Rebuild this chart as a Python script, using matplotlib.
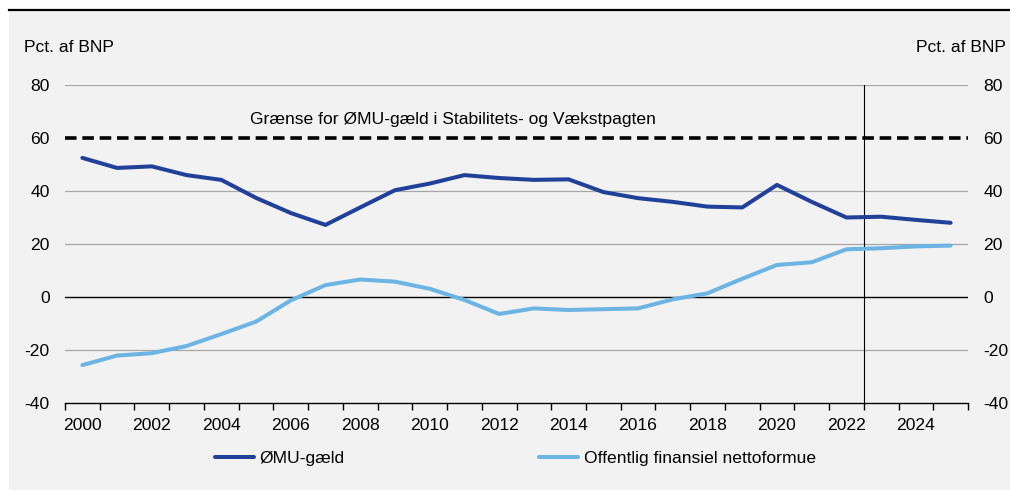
import matplotlib.pyplot as plt
from matplotlib.patches import Rectangle
from matplotlib.lines import Line2D

plt.rcParams['font.family'] = ['Liberation Sans', 'DejaVu Sans']
plt.rcParams['axes.unicode_minus'] = False

years = list(range(2000, 2026))
emu_debt = [52.5, 48.7, 49.3, 46.0, 44.2, 37.4, 31.7, 27.2, 33.8, 40.3,
            42.8, 46.0, 44.9, 44.2, 44.4, 39.6, 37.3, 35.9, 34.1, 33.8,
            42.3, 35.9, 30.0, 30.3, 29.1, 28.0]
net_wealth = [-25.7, -22.1, -21.2, -18.5, -14.0, -9.3, -1.3, 4.5, 6.6, 5.8,
              3.1, -1.1, -6.4, -4.3, -4.9, -4.6, -4.3, -0.9, 1.4, 6.9,
              12.1, 13.1, 18.0, 18.4, 19.1, 19.4]
limit = 60
ticks = [-40, -20, 0, 20, 40, 60, 80]
dark_blue = '#21409a'
light_blue = '#6cb4e4'
fs = 12.6

fig = plt.figure(figsize=(10.1, 4.9), dpi=100, facecolor='white')
fig.patches.append(Rectangle((9 / 1010, 0), 1 - 9 / 1010, 1 - 10 / 490,
                             transform=fig.transFigure, facecolor='#f2f2f2',
                             edgecolor='none', zorder=-10))
fig.lines.append(Line2D([9 / 1010, 1], [1 - 10 / 490, 1 - 10 / 490],
                        transform=fig.transFigure, color='black', lw=1.6))

ax = fig.add_axes([65 / 1010, 1 - 403 / 490, 903 / 1010, 318 / 490])
ax.set_facecolor('none')
x = list(range(len(years)))

for v in [80, 40, 20, -20]:
    ax.axhline(v, color='#a6a6a6', lw=0.9, zorder=1)
ax.axhline(0, color='black', lw=1.0, zorder=1)
ax.axhline(limit, color='black', lw=2.6, linestyle=(0, (3.2, 1.6)), zorder=2)
ax.plot([22.5, 22.5], [-40, 80], color='black', lw=0.8, zorder=2)

ax.plot(x, emu_debt, color=dark_blue, lw=2.9, solid_capstyle='round',
        label='ØMU-gæld', zorder=3)
ax.plot(x, net_wealth, color=light_blue, lw=2.9, solid_capstyle='round',
        label='Offentlig finansiel nettoformue', zorder=3)

ax.text(4.83, 66.8, 'Grænse for ØMU-gæld i Stabilitets- og Vækstpagten',
        fontsize=fs, va='center', ha='left')

ax.set_xlim(-0.5, len(years) - 0.5)
ax.set_ylim(-40, 80)
ax.set_yticks(ticks)
ax.tick_params(axis='y', length=0, pad=11, labelsize=fs)

ax.set_xticks([i - 0.5 for i in range(len(years) + 1)])
ax.set_xticklabels([])
ax.set_xticks(x[::2], minor=True)
ax.set_xticklabels([str(y) for y in years[::2]], minor=True)
ax.tick_params(axis='x', which='major', length=5, width=1, direction='out')
ax.tick_params(axis='x', which='minor', length=0, pad=11, labelsize=fs)

for s in ['top', 'left', 'right']:
    ax.spines[s].set_visible(False)
ax.spines['bottom'].set_linewidth(1.0)

ax2 = ax.twinx()
ax2.set_ylim(-40, 80)
ax2.set_yticks(ticks)
ax2.tick_params(axis='y', length=0, pad=11, labelsize=fs)
for s in ['top', 'left', 'right', 'bottom']:
    ax2.spines[s].set_visible(False)

fig.text(24 / 1010, 1 - 47 / 490, 'Pct. af BNP', fontsize=fs, va='center', ha='left')
fig.text(1006 / 1010, 1 - 47 / 490, 'Pct. af BNP', fontsize=fs, va='center', ha='right')

fig.legend(*ax.get_legend_handles_labels(), loc='center left',
           bbox_to_anchor=(215 / 1010, 1 - 458 / 490), ncol=2, frameon=False,
           fontsize=fs, handlelength=2.2, handletextpad=0.35,
           columnspacing=11.1, borderpad=0, borderaxespad=0)

fig.savefig('out.png', dpi=100, facecolor=fig.get_facecolor())
